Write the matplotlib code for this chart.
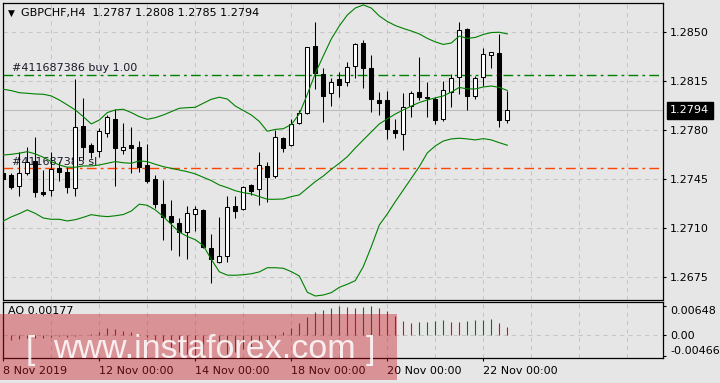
import matplotlib
matplotlib.use("Agg")
import matplotlib.pyplot as plt
import matplotlib.transforms as mtransforms
from matplotlib.patches import Rectangle
import numpy as np

# GBPCHF H4 candles, 8 Nov 2019 00:00 .. 22 Nov 2019 08:00
symbol = "GBPCHF,H4"
opens = [1.27493, 1.27479, 1.27402, 1.27495, 1.27579, 1.27355, 1.27371, 1.27529, 1.27498, 1.27384,
         1.27829, 1.27693, 1.27652, 1.27776, 1.27879, 1.27657, 1.27691, 1.27676, 1.27550, 1.27450,
         1.27271, 1.27186, 1.27134, 1.27074, 1.27198, 1.27229, 1.26955, 1.26859, 1.26902, 1.27257,
         1.27234, 1.27405, 1.27376, 1.27543, 1.27474, 1.27741, 1.27693, 1.27848, 1.27919, 1.28400,
         1.28198, 1.28062, 1.28162, 1.28141, 1.28259, 1.28419, 1.28243, 1.28014, 1.28014, 1.27800,
         1.27769, 1.27969, 1.28069, 1.28034, 1.28020, 1.27876, 1.28071, 1.28176, 1.28520, 1.28041,
         1.28176, 1.28336, 1.28350, 1.27870]
highs = [1.27529, 1.27495, 1.27645, 1.27679, 1.27750, 1.27514, 1.27641, 1.27571, 1.27536, 1.28162,
         1.28026, 1.27707, 1.27812, 1.27907, 1.27948, 1.27852, 1.27824, 1.27719, 1.27698, 1.27479,
         1.27443, 1.27300, 1.27169, 1.27259, 1.27259, 1.27232, 1.27057, 1.27181, 1.27329, 1.27329,
         1.27400, 1.27411, 1.27646, 1.27574, 1.27800, 1.27752, 1.27879, 1.27943, 1.28395, 1.28569,
         1.28243, 1.28168, 1.28214, 1.28284, 1.28424, 1.28443, 1.28336, 1.28074, 1.28079, 1.27877,
         1.28062, 1.28079, 1.28324, 1.28145, 1.28032, 1.28151, 1.28199, 1.28574, 1.28530, 1.28189,
         1.28386, 1.28359, 1.28488, 1.28080]
lows = [1.27429, 1.27375, 1.27331, 1.27479, 1.27319, 1.27329, 1.27331, 1.27438, 1.27348, 1.27331,
        1.27586, 1.27600, 1.27609, 1.27752, 1.27400, 1.27629, 1.27491, 1.27502, 1.27424, 1.27241,
        1.27014, 1.26943, 1.26900, 1.26879, 1.27079, 1.26957, 1.26705, 1.26852, 1.26855, 1.27174,
        1.27229, 1.27336, 1.27264, 1.27286, 1.27457, 1.27641, 1.27688, 1.27841, 1.27914, 1.28093,
        1.27859, 1.27974, 1.28038, 1.28116, 1.28174, 1.28098, 1.27929, 1.27907, 1.27736, 1.27743,
        1.27657, 1.27889, 1.28014, 1.27895, 1.27841, 1.27862, 1.27964, 1.28057, 1.27941, 1.28019,
        1.28116, 1.28241, 1.27824, 1.27850]
closes = [1.27450, 1.27395, 1.27491, 1.27574, 1.27355, 1.27345, 1.27519, 1.27502, 1.27395, 1.27819,
          1.27676, 1.27645, 1.27793, 1.27891, 1.27669, 1.27676, 1.27669, 1.27538, 1.27438, 1.27271,
          1.27176, 1.27141, 1.27069, 1.27205, 1.27234, 1.26962, 1.26876, 1.26900, 1.27248, 1.27224,
          1.27395, 1.27366, 1.27550, 1.27466, 1.27748, 1.27674, 1.27841, 1.27919, 1.28391, 1.28205,
          1.28045, 1.28145, 1.28124, 1.28248, 1.28412, 1.28246, 1.28019, 1.27995, 1.27804, 1.27776,
          1.27961, 1.28062, 1.28038, 1.28025, 1.27869, 1.28086, 1.28169, 1.28512, 1.28044, 1.28169,
          1.28341, 1.28359, 1.27874, 1.27940]

# Bollinger bands
bb_upper = [1.28091, 1.28081, 1.28066, 1.28062, 1.28057, 1.28055, 1.28043, 1.28014, 1.27979, 1.27943,
            1.27895, 1.27843, 1.27871, 1.27924, 1.27943, 1.27948, 1.27924, 1.27895, 1.27876, 1.27888,
            1.27907, 1.27931, 1.27955, 1.27959, 1.27962, 1.27991, 1.28019, 1.28034, 1.28021, 1.27971,
            1.27939, 1.27907, 1.27861, 1.27791, 1.27804, 1.27809, 1.27839, 1.27914, 1.28054, 1.28204,
            1.28329, 1.28450, 1.28543, 1.28621, 1.28671, 1.28693, 1.28671, 1.28614, 1.28575, 1.28546,
            1.28525, 1.28507, 1.28486, 1.28454, 1.28429, 1.28411, 1.28421, 1.28471, 1.28454, 1.28461,
            1.28482, 1.28496, 1.28498, 1.28486]
bb_middle = [1.27621, 1.27626, 1.27634, 1.27645, 1.27629, 1.27605, 1.27574, 1.27550, 1.27534, 1.27534,
             1.27543, 1.27543, 1.27550, 1.27562, 1.27574, 1.27566, 1.27562, 1.27579, 1.27574, 1.27555,
             1.27538, 1.27526, 1.27514, 1.27502, 1.27486, 1.27462, 1.27438, 1.27407, 1.27388, 1.27366,
             1.27352, 1.27343, 1.27324, 1.27305, 1.27305, 1.27307, 1.27324, 1.27336, 1.27384, 1.27431,
             1.27471, 1.27519, 1.27562, 1.27609, 1.27671, 1.27729, 1.27786, 1.27843, 1.27879, 1.27914,
             1.27943, 1.27971, 1.27996, 1.28014, 1.28029, 1.28043, 1.28071, 1.28104, 1.28093, 1.28093,
             1.28107, 1.28114, 1.28104, 1.28082]
bb_lower = [1.27150, 1.27179, 1.27202, 1.27229, 1.27204, 1.27171, 1.27162, 1.27162, 1.27150, 1.27159,
            1.27176, 1.27195, 1.27186, 1.27181, 1.27187, 1.27196, 1.27221, 1.27270, 1.27262, 1.27229,
            1.27181, 1.27125, 1.27071, 1.27039, 1.27016, 1.26974, 1.26876, 1.26787, 1.26763, 1.26762,
            1.26766, 1.26773, 1.26786, 1.26816, 1.26816, 1.26812, 1.26788, 1.26757, 1.26641, 1.26614,
            1.26621, 1.26638, 1.26676, 1.26698, 1.26724, 1.26824, 1.26966, 1.27121, 1.27200, 1.27288,
            1.27371, 1.27455, 1.27538, 1.27636, 1.27686, 1.27721, 1.27736, 1.27741, 1.27736, 1.27729,
            1.27738, 1.27729, 1.27709, 1.27691]

# Awesome Oscillator
ao_values = [-0.00090, -0.00100, -0.00080, -0.00050, -0.00070, -0.00060, -0.00040, -0.00020, -0.00040, -0.00020,
             0.00010, 0.00030, 0.00080, 0.00160, 0.00135, 0.00095, 0.00065, 0.00025, -0.00035, -0.00135,
             -0.00210, -0.00290, -0.00360, -0.00415, -0.00440, -0.00460, -0.00466, -0.00445, -0.00420, -0.00365,
             -0.00310, -0.00255, -0.00200, -0.00140, -0.00070, 0.00065, 0.00170, 0.00265, 0.00410, 0.00505,
             0.00560, 0.00595, 0.00648, 0.00635, 0.00610, 0.00630, 0.00645, 0.00610, 0.00545, 0.00435,
             0.00325, 0.00270, 0.00300, 0.00305, 0.00325, 0.00330, 0.00305, 0.00295, 0.00320, 0.00330,
             0.00340, 0.00350, 0.00270, 0.00177]

price_ticks = [1.2675, 1.2710, 1.2745, 1.2780, 1.2815, 1.2850]
ao_ticks = [-0.00466, 0.0, 0.00648]
ao_tick_labels = ["-0.00466", "0.00", "0.00648"]
date_bars = [0, 12, 24, 36, 48, 60]
date_labels = ["8 Nov 2019", "12 Nov 00:00", "14 Nov 00:00", "18 Nov 00:00", "20 Nov 00:00", "22 Nov 00:00"]

buy_label = "#411687386 buy 1.00"
buy_price = 1.28191
sl_label = "#411687385 sl"
sl_price = 1.27526

BG = "#e6e6e6"
GRID = "#c6c6c6"
GREEN = "#008000"
RED = "#ff0000"
W, H = 720, 383

plt.rcParams["font.family"] = ["DejaVu Sans"]
plt.rcParams["font.size"] = 8

fig = plt.figure(figsize=(W / 100, H / 100), dpi=100, facecolor=BG)


def px_axes(left, top, right, bottom):
    return fig.add_axes([left / W, 1 - bottom / H, (right - left) / W, (bottom - top) / H])


ax1 = px_axes(2.7, 2.7, 663.3, 299.5)
ax2 = px_axes(2.7, 301.7, 663.3, 358.3)
for ax in (ax1, ax2):
    ax.set_facecolor(BG)
    for s in ax.spines.values():
        s.set_color("black")
        s.set_linewidth(0.9)
    ax.set_xlim(-0.075, 82.5)
    for k in range(6, 83, 6):
        ax.axvline(k, color=GRID, lw=0.75, ls=(0, (4, 4)), zorder=0)

x = np.arange(len(opens))
o = np.array(opens); h = np.array(highs); l = np.array(lows); c = np.array(closes)
up = c >= o

# --- price panel
ax1.set_ylim(1.26589, 1.28709)
for p in price_ticks:
    ax1.axhline(p, color=GRID, lw=0.75, ls=(0, (4, 4)), zorder=0)
ax1.axhline(closes[-1], color="#bdbdbd", lw=0.8, zorder=0.5)

ax1.vlines(x, l, h, color="black", lw=0.75, zorder=2)
ax1.bar(x[up], np.maximum(c - o, 0.00002)[up], bottom=o[up], width=0.5,
        facecolor="white", edgecolor="black", lw=0.75, zorder=3)
ax1.bar(x[~up], (o - c)[~up], bottom=c[~up], width=0.5,
        facecolor="black", edgecolor="black", lw=0.75, zorder=3)

for band in (bb_upper, bb_middle, bb_lower):
    ax1.plot(x, band, color=GREEN, lw=0.8, zorder=4)

ax1.axhline(buy_price, color=GREEN, lw=1.0, ls=(0, (7, 3, 2, 3)), zorder=1)
ax1.axhline(sl_price, color="#ff4500", lw=1.0, ls=(0, (7, 3, 2, 3)), zorder=1)

trans1 = mtransforms.blended_transform_factory(ax1.transAxes, ax1.transData)
ax1.annotate(buy_label, (0.014, buy_price), xycoords=trans1, xytext=(0, 1.5),
             textcoords="offset points", va="bottom", ha="left", color="#1a1a2a", zorder=1.5)
ax1.annotate(sl_label, (0.014, sl_price), xycoords=trans1, xytext=(0, 1),
             textcoords="offset points", va="bottom", ha="left", color="#1a1a2a", zorder=1.5)

ax1.yaxis.tick_right()
ax1.set_yticks(price_ticks)
ax1.set_yticklabels([f"{p:.4f}" for p in price_ticks])
ax1.tick_params(axis="y", direction="out", length=2.5, width=0.8, pad=2.5, labelsize=8)
ax1.tick_params(axis="x", length=0, labelbottom=False)

ax1.annotate(f"{closes[-1]:.4f}", (1.0, closes[-1]), xycoords=trans1, xytext=(5, 0),
             textcoords="offset points", va="center", ha="left", color="white", fontsize=8,
             bbox=dict(boxstyle="square,pad=0.3", facecolor="black", edgecolor="black"),
             annotation_clip=False)

fig.text(8 / W, 1 - 13 / H, "\u25bc", fontsize=6.5, va="center", ha="left", color="black")
fig.text(21 / W, 1 - 13 / H,
         f"{symbol}  {opens[-1]:.4f} {highs[-1]:.4f} {lows[-1]:.4f} {closes[-1]:.4f}",
         fontsize=8, va="center", ha="left", color="black")

# --- AO panel
ax2.set_ylim(-0.00508, 0.00743)
ax2.axhline(0, color=GRID, lw=0.75, ls=(0, (4, 4)), zorder=0)
ao = np.array(ao_values)
colors = [GREEN] + [GREEN if ao[i] >= ao[i - 1] else RED for i in range(1, len(ao))]
ax2.vlines(x, 0, ao, colors=colors, lw=0.8, zorder=2)
ax2.text(0.008, 0.84, f"AO {ao_values[-1]:.5f}", transform=ax2.transAxes,
         va="center", ha="left", color="black", fontsize=8)

ax2.yaxis.tick_right()
ax2.set_yticks(ao_ticks)
ax2.set_yticklabels(ao_tick_labels)
ax2.tick_params(axis="y", direction="out", length=2.5, width=0.8, pad=2.5, labelsize=8)
yl = ax2.get_yticklabels()
yl[0].set_va("bottom")
yl[2].set_va("top")

ax2.set_xticks(date_bars)
ax2.set_xticklabels(date_labels)
ax2.tick_params(axis="x", direction="out", length=2.5, width=0.8, pad=3, labelsize=8)
for t in ax2.get_xticklabels():
    t.set_ha("left")

# --- watermark
fig.add_artist(Rectangle((0, 1 - 380 / H), 397 / W, (380 - 314) / H, transform=fig.transFigure,
                         facecolor=(0.78, 0.08, 0.12), alpha=0.4, lw=0, zorder=10))
wm_font = ["Liberation Sans Narrow", "Liberation Sans", "DejaVu Sans"]
fig.text(26 / W, 1 - 359 / H, "[", fontsize=24, color="white", alpha=0.85,
         family=wm_font, va="baseline", ha="left", zorder=11)
fig.text(53 / W, 1 - 358 / H, "www.instaforex.com", fontsize=24.5, color="white", alpha=0.85,
         family=wm_font, va="baseline", ha="left", zorder=11)
fig.text(366 / W, 1 - 359 / H, "]", fontsize=24, color="white", alpha=0.85,
         family=wm_font, va="baseline", ha="left", zorder=11)

fig.savefig("out.png", dpi=100, facecolor=BG)
